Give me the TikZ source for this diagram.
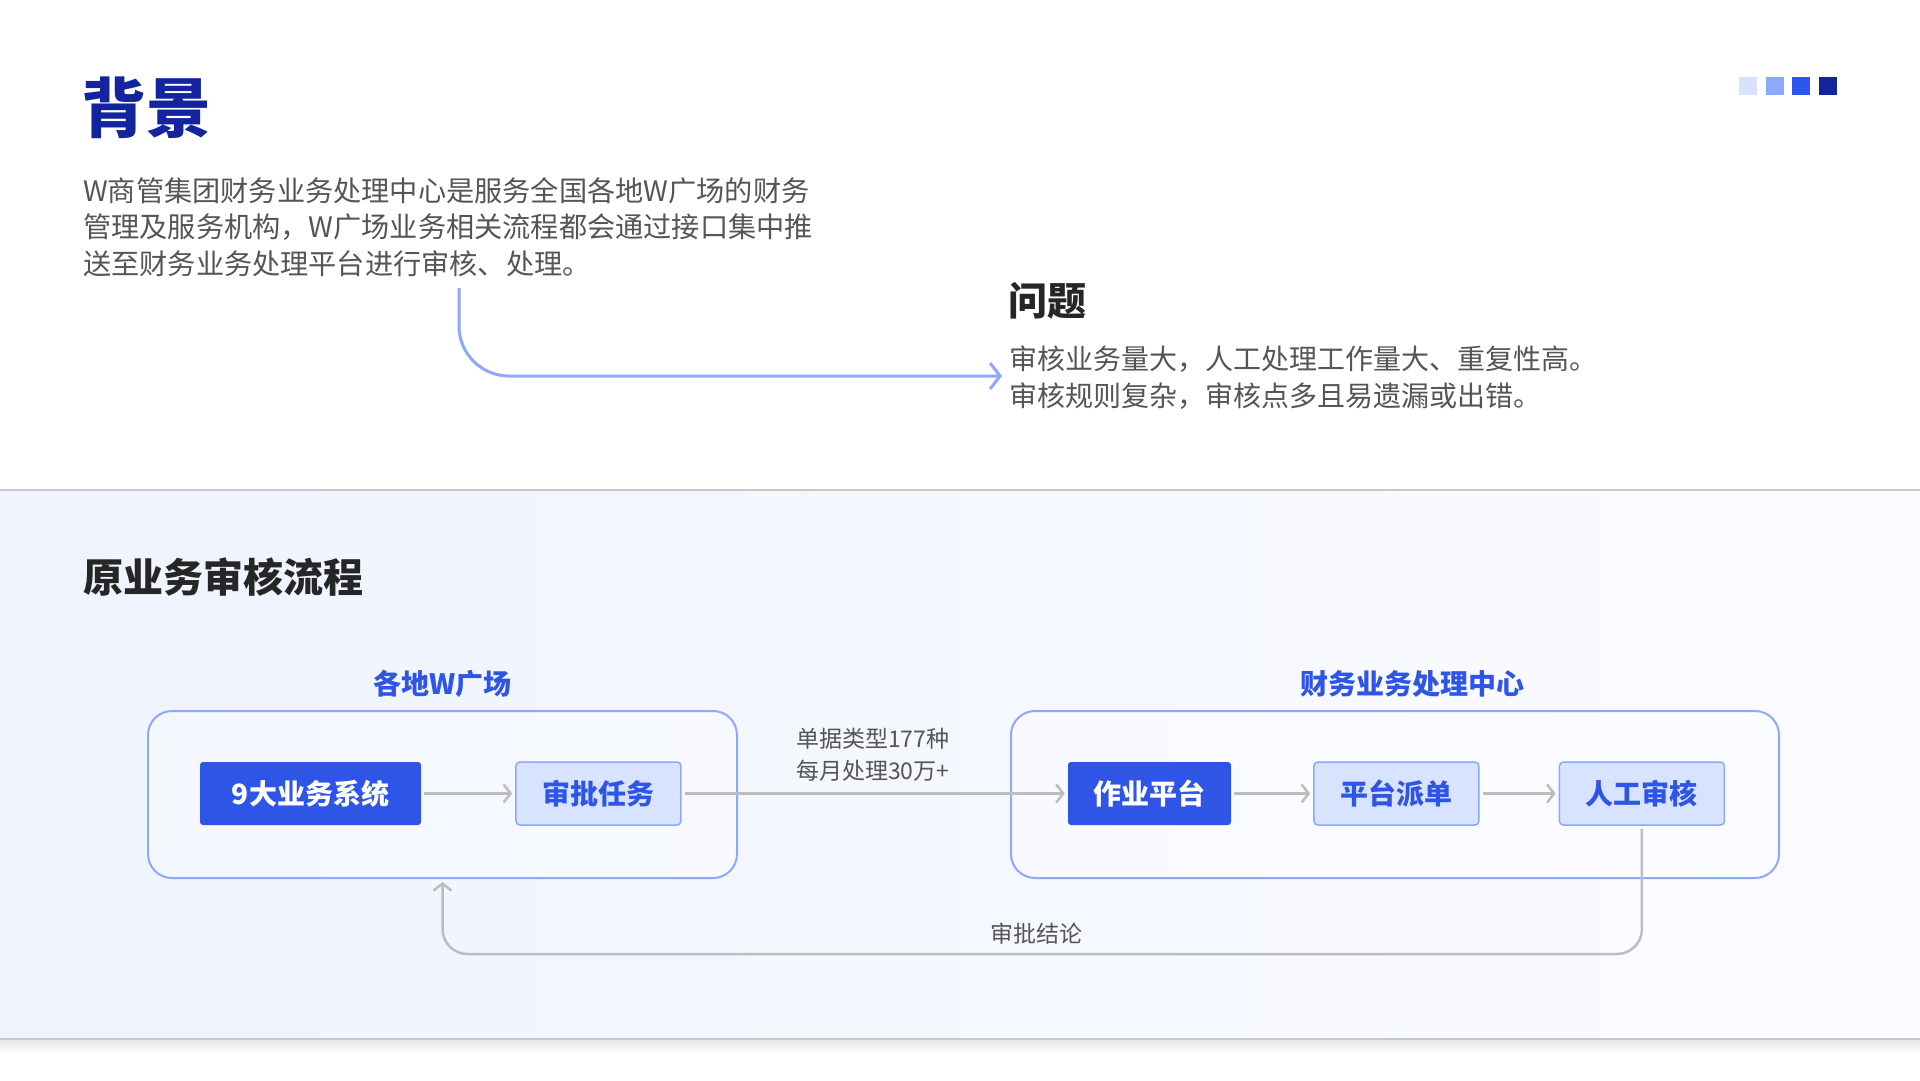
\documentclass[tikz,border=0pt]{standalone}
\usepackage{fontspec}
\setmainfont{Noto Sans CJK SC}
\usetikzlibrary{arrows.meta,positioning,calc}

\definecolor{titleblue}{HTML}{14249E}
\definecolor{headgray}{HTML}{262626}
\definecolor{bodygray}{HTML}{555555}
\definecolor{lineblue}{HTML}{8CA8FF}
\definecolor{boxblue}{HTML}{2F55E6}
\definecolor{lightfill}{HTML}{D7E3FF}
\definecolor{flowgray}{HTML}{BDBDBD}
\definecolor{sepgray}{HTML}{C8C8C8}
\definecolor{bandleft}{HTML}{EEF3FE}
\definecolor{bandright}{HTML}{FBFCFF}
\definecolor{sqa}{HTML}{D6E2FF}
\definecolor{sqb}{HTML}{8BA9FF}
\definecolor{sqc}{HTML}{2D57E8}
\definecolor{sqd}{HTML}{0F249D}

\tikzset{
  page/title/.style={anchor=west, inner sep=0pt, text=titleblue, font=\fontsize{65}{68}\selectfont\bfseries},
  page/head/.style={anchor=west, inner sep=0pt, text=headgray, font=\fontsize{39}{42}\selectfont\bfseries},
  page/body/.style={anchor=west, inner sep=0pt, align=left, text=bodygray},
  page/sep/.style={draw=sepgray, line width=1.5pt},
  flow/group/.style={draw=lineblue, line width=2pt, rounded corners=24pt, fill=white, fill opacity=0.35, text opacity=1, minimum height=167pt},
  flow/grouplabel/.style={inner sep=0pt, text=boxblue, font=\fontsize{28}{30}\selectfont\bfseries},
  flow/solid/.style={fill=boxblue, text=white, rounded corners=3pt, minimum height=63pt, font=\fontsize{28}{30}\selectfont\bfseries},
  flow/light/.style={fill=lightfill, draw=lineblue, line width=1.5pt, text=boxblue, rounded corners=4pt, minimum height=63pt, minimum width=165pt, font=\fontsize{28}{30}\selectfont\bfseries},
  flow/line/.style={draw=flowgray, line width=2.5pt, shorten <=3pt, shorten >=3pt, -{Straight Barb[length=7pt,width=18pt]}},
  flow/label/.style={inner sep=0pt, text=bodygray, align=center, font=\fontsize{23}{32}\selectfont}
}

\begin{document}
\begin{tikzpicture}[
  x=1pt, y=-1pt,
  bgarrow/.style={draw=lineblue, line width=3pt, rounded corners=50pt, -{Straight Barb[length=10pt,width=26pt]}}
]
\useasboundingbox (0,0) rectangle (1920,1080);
\fill[white] (0,0) rectangle (1920,1080);

% --- lower band ---
\shade[left color=bandleft, right color=bandright] (0,490) rectangle (1920,1039);
\shade[top color=black!10, bottom color=white] (0,1039) rectangle (1920,1054);
\draw[page/sep] (0,490) -- (1920,490);
\draw[page/sep] (0,1039) -- (1920,1039);

% --- corner squares ---
\foreach \i/\c in {0/sqa,1/sqb,2/sqc,3/sqd}
  \fill[\c] (1739+\i*26.7,77) rectangle ++(18,18);

% --- background + problem ---
\node[page/title] (bgtitle) at (81,108) {背景};
\node[page/body, font=\fontsize{28.2}{36.5}\selectfont] (intro) at (83,227)
  {W商管集团财务业务处理中心是服务全国各地W广场的财务\\
   管理及服务机构，W广场业务相关流程都会通过接口集中推\\
   送至财务业务处理平台进行审核、处理。};

\node[page/head] (issuetitle) at (1008,301) {问题};
\node[page/body, font=\fontsize{28}{37}\selectfont] (issue) at (1009,378)
  {审核业务量大，人工处理工作量大、重复性高。\\
   审核规则复杂，审核点多且易遗漏或出错。};

\coordinate (bgstart) at (459,288);
\draw[bgarrow] (bgstart) |- ([xshift=-7pt,yshift=2pt]issue.west);

% --- original flow ---
\node[page/head, font=\fontsize{40}{44}\selectfont\bfseries] (flowtitle) at (83,577) {原业务审核流程};

\node[flow/group, minimum width=589pt] (grpL) at (442.5,794.5) {};
\node[flow/group, minimum width=768pt] (grpR) at (1395,794.5) {};
\node[flow/grouplabel, above=12pt of grpL] (grpLlabel) {各地W广场};
\node[flow/grouplabel, above=12pt of grpR, xshift=17pt] (grpRlabel) {财务业务处理中心};

\node[flow/solid, minimum width=221pt] (sys) at (310.5,793.5) {9大业务系统};
\node[flow/light, right=94pt of sys] (task) {审批任务};
\node[flow/solid, minimum width=163pt] (platform) at (1149.5,793.5) {作业平台};
\node[flow/light, right=82pt of platform] (dispatch) {平台派单};
\node[flow/light, right=79pt of dispatch] (manual) {人工审核};

\draw[flow/line] (sys) -- (task);
\draw[flow/line] (task) -- node[flow/label, above=11pt, xshift=-2pt] {单据类型177种\\每月处理30万+} (platform);
\draw[flow/line] (platform) -- (dispatch);
\draw[flow/line] (dispatch) -- (manual);

% feedback loop
\coordinate (fb) at (0,954);
\draw[flow/line, rounded corners=25pt] (manual.south) -- (manual.south |- fb)
  -- node[flow/label, pos=0.505, above=8pt] {审批结论} (grpL.south |- fb) -- (grpL.south);

\end{tikzpicture}
\end{document}
